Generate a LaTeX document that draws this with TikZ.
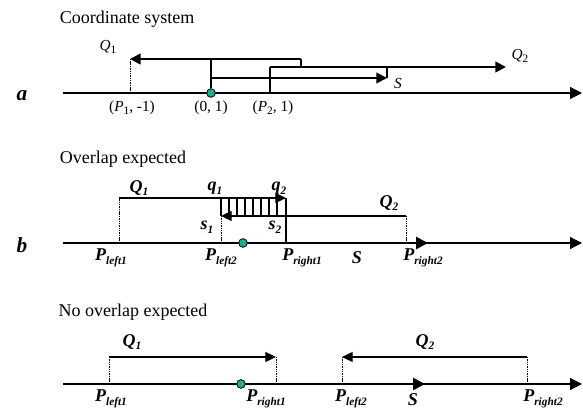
\documentclass[tikz,border=0pt]{standalone}
\usepackage{fontspec}
\setmainfont{Liberation Serif}
\usetikzlibrary{arrows.meta}
\definecolor{dotgreen}{RGB}{20,180,140}
\newcommand{\lowsub}[1]{\raisebox{-0.45ex}{\fontsize{8.5}{9}\selectfont #1}}
\tikzset{
  axis/.style={line width=0.9pt,-{Triangle[length=9pt,width=9pt]}},
  thickarr/.style={line width=1.8pt,-{Triangle[length=8pt,width=8pt]}},
  thinarr/.style={line width=0.8pt,-{Triangle[length=8pt,width=7.5pt]}},
  sarr/.style={line width=2pt,-{Triangle[length=9pt,width=9pt]}},
  guide/.style={line width=0.6pt,dash pattern=on 0.8pt off 0.5pt},
  plain/.style={line width=0.8pt},
  origin/.style={circle,draw=black,line width=0.6pt,fill=dotgreen,inner sep=0pt,minimum size=6.5pt},
  title/.style={font=\fontsize{13.5}{15}\selectfont},
  panel/.style={font=\fontsize{16}{18}\selectfont\bfseries\itshape},
  lbla/.style={font=\fontsize{11.5}{13}\selectfont},
  lblb/.style={font=\fontsize{13.5}{14}\selectfont\bfseries\itshape},
}
\begin{document}
\begin{tikzpicture}[x=0.75pt,y=-0.75pt]
\useasboundingbox (0,0) rectangle (583,409);

% ---------- a: coordinate system ----------
\node[title] (ta) at (127,19) {Coordinate system};
\node[panel] (la) at (22,96) {a};
\coordinate (a0) at (63,93);
\coordinate (a1) at (582,93);
\draw[axis] (a0) -- (a1);
\coordinate (aP1) at (130,93);
\coordinate (aP2) at (270,93);
\coordinate (aq1s) at (301,67);
\coordinate (aq1c) at (301,59);
\coordinate (aq1e) at (130,59);
\coordinate (aq2s) at (270,67);
\coordinate (aq2e) at (506,67);
\coordinate (ass) at (211,78);
\coordinate (ast) at (211,59);
\coordinate (ase) at (387,78);
\coordinate (asu) at (387,67);
\draw[guide] (aP1) -- (aq1e);
\draw[plain] (aP2) -- (aq2s);
\draw[plain] (ast) -- (ass);
\draw[plain] (asu) -- (ase);
\draw[line width=1.8pt] (aq1s) -- (aq1c);
\draw[thickarr] (aq1c) -- (aq1e);
\draw[thickarr] (aq2s) -- (aq2e);
\draw[line width=1.6pt,-{Triangle[length=8pt,width=8pt]}] (ass) -- (ase);
\node[origin] (ao) at (211,93) {};
\draw[plain] (ass) -- (ao);
\node[lbla] (aQ1) at (108,47) {\itshape Q\lowsub{\upshape 1}};
\node[lbla] (aQ2) at (520,56) {\itshape Q\lowsub{\upshape 2}};
\node[lbla] (aS) at (398,84) {\itshape S};
\node[lbla] (c1) at (132,108) {(\textit{P}\lowsub{1}, -1)};
\node[lbla] (c2) at (211,108) {(0, 1)};
\node[lbla] (c3) at (273,108) {(\textit{P}\lowsub{2}, 1)};

% ---------- b: overlap expected ----------
\node[title] (tb) at (123,159) {Overlap expected};
\node[panel] (lb) at (22,245) {b};
\coordinate (b0) at (63,243);
\coordinate (b1) at (582,243);
\draw[axis] (b0) -- (b1);
\coordinate (bL1) at (119,243);
\coordinate (bL2) at (221,243);
\coordinate (bR1) at (286,243);
\coordinate (bR2) at (406,243);
\coordinate (bq1a) at (119,198);
\coordinate (bq1b) at (286,198);
\coordinate (bq2a) at (406,216);
\coordinate (bq2b) at (221,216);
\coordinate (bh) at (221,198);
\draw[guide] (bL1) -- (bq1a);
\draw[thinarr] (bq1a) -- (bq1b);
\draw[plain] (bR1) -- (bq1b);
\draw[guide] (bR2) -- (bq2a);
\draw[thinarr] (bq2a) -- (bq2b);
\draw[guide] (bL2) -- (bq2b);
\draw[plain] (bq2b) -- (bh);
\foreach \k in {1,...,7}
  \draw[plain] (221+8*\k,198) -- (221+8*\k,216);
\node[origin] (bo) at (243,243) {};
\coordinate (bse) at (428,243);
\draw[sarr] (bo) -- (bse);
\node[lblb] (bQ1) at (139,188) {Q\lowsub{1}};
\node[lblb] (bq1) at (215,188) {q\lowsub{1}};
\node[lblb] (bq2) at (279,188) {q\lowsub{2}};
\node[lblb] (bQ2) at (389,203) {Q\lowsub{2}};
\node[lblb] (bs1) at (207,227) {s\lowsub{1}};
\node[lblb] (bs2) at (275,227) {s\lowsub{2}};
\node[lblb] (bp1) at (111,258) {P\lowsub{left1}};
\node[lblb] (bp2) at (221,258) {P\lowsub{left2}};
\node[lblb] (bp3) at (302,258) {P\lowsub{right1}};
\node[lblb] (bS) at (357,258) {S};
\node[lblb] (bp4) at (423,258) {P\lowsub{right2}};

% ---------- c: no overlap expected ----------
\node[title] (tc) at (133,312) {No overlap expected};
\coordinate (c0) at (63,384);
\coordinate (c1) at (582,384);
\draw[axis] (c0) -- (c1);
\coordinate (cL1) at (109,384);
\coordinate (cR1) at (276,384);
\coordinate (cL2) at (342,384);
\coordinate (cR2) at (527,384);
\coordinate (cq1a) at (109,357);
\coordinate (cq1b) at (276,357);
\coordinate (cq2a) at (527,357);
\coordinate (cq2b) at (342,357);
\draw[guide] (cL1) -- (cq1a);
\draw[thinarr] (cq1a) -- (cq1b);
\draw[guide] (cR1) -- (cq1b);
\draw[guide] (cR2) -- (cq2a);
\draw[thinarr] (cq2a) -- (cq2b);
\draw[guide] (cL2) -- (cq2b);
\node[origin] (co) at (241,384) {};
\coordinate (cse) at (425,384);
\draw[sarr] (co) -- (cse);
\node[lblb] (cQ1) at (132,342) {Q\lowsub{1}};
\node[lblb] (cQ2) at (425,342) {Q\lowsub{2}};
\node[lblb] (cp1) at (111,399) {P\lowsub{left1}};
\node[lblb] (cp2) at (266,399) {P\lowsub{right1}};
\node[lblb] (cp3) at (351,399) {P\lowsub{left2}};
\node[lblb] (cS) at (413,400) {S};
\node[lblb] (cp4) at (543,399) {P\lowsub{right2}};
\end{tikzpicture}
\end{document}
